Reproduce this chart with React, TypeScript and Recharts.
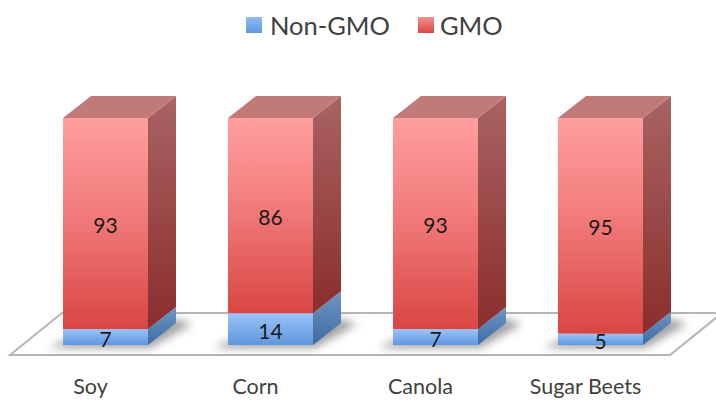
import { BarChart, Bar, XAxis, YAxis, Legend, LabelList } from "recharts";

const crops = ["Soy", "Corn", "Canola", "Sugar Beets"];
const nonGmo = [7, 14, 7, 5];
const gmo = [93, 86, 93, 95];

const rows = crops.map((crop, i) => ({ crop, nonGmo: nonGmo[i], gmo: gmo[i] }));

// 3D extrusion of each column, up and to the right
const DEPTH_X = 28;
const DEPTH_Y = 22;

const LEGEND_COLORS: Record<string, string> = {
  "Non-GMO": "url(#legendBlue)",
  GMO: "url(#legendRed)",
};

function ColumnFace({ x, y, width, height, front, side, top, shadow }: any) {
  const r = x + width;
  const b = y + height;
  return (
    <g>
      {shadow && (
        <polygon
          points={`${x - 14},${b + 3} ${r + 2},${b + 3} ${r + DEPTH_X + 16},${b - DEPTH_Y + 1} ${r + DEPTH_X},${b - DEPTH_Y - 4} ${x},${b - 4}`}
          fill="#555"
          opacity={0.55}
          filter="url(#floorShadow)"
        />
      )}
      <polygon
        points={`${r},${y} ${r + DEPTH_X},${y - DEPTH_Y} ${r + DEPTH_X},${b - DEPTH_Y} ${r},${b}`}
        fill={side}
      />
      {top && (
        <polygon
          points={`${x},${y} ${x + DEPTH_X},${y - DEPTH_Y} ${r + DEPTH_X},${y - DEPTH_Y} ${r},${y}`}
          fill={top}
        />
      )}
      <rect x={x} y={y} width={width} height={height} fill={front} />
    </g>
  );
}

const BlueColumn = (props: any) => (
  <ColumnFace {...props} front="url(#blueFront)" side="url(#blueSide)" shadow />
);

const RedColumn = (props: any) => (
  <ColumnFace {...props} front="url(#redFront)" side="url(#redSide)" top="#c27a79" />
);

// category names sit left of their column, as the 3D projection shifts the plot
function CropTick({ x, y, payload }: any) {
  return (
    <text x={x - 15} y={y + 41} textAnchor="middle" fontSize={21.5} fill="#404040">
      {payload.value}
    </text>
  );
}

function LegendRow({ payload }: any) {
  return (
    <div style={{ display: "flex", alignItems: "center", fontSize: 25.5, color: "#404040", lineHeight: "30px" }}>
      {(payload ?? []).map((entry: any, i: number) => (
        <div key={entry.value} style={{ display: "flex", alignItems: "center", marginLeft: i ? 28 : 0 }}>
          <svg width={16} height={16} style={{ marginRight: i ? 6 : 8 }}>
            <rect width={16} height={16} fill={LEGEND_COLORS[entry.value]} />
          </svg>
          {entry.value}
        </div>
      ))}
    </div>
  );
}

const labelStyle = { fill: "#1a1a1a", fontSize: 21 };

export default function App() {
  return (
    <div style={{ position: "absolute", left: 0, top: 0, width: 716, height: 400, background: "#fff", fontFamily: "Lato, sans-serif" }}>
      <BarChart
        width={716}
        height={400}
        data={rows}
        margin={{ top: 88, right: 33, bottom: 25, left: 23 }}
        barCategoryGap={40}
      >
        <defs>
          <linearGradient id="redFront" x1="0" y1="0" x2="0" y2="1">
            <stop offset="0" stopColor="#ff9f9f" />
            <stop offset="0.45" stopColor="#f27c7b" />
            <stop offset="1" stopColor="#d84644" />
          </linearGradient>
          <linearGradient id="redSide" x1="0" y1="0" x2="0" y2="1">
            <stop offset="0" stopColor="#a96363" />
            <stop offset="1" stopColor="#8a2e2c" />
          </linearGradient>
          <linearGradient id="blueFront" x1="0" y1="0" x2="0" y2="1">
            <stop offset="0" stopColor="#9cc4fb" />
            <stop offset="1" stopColor="#5f97dd" />
          </linearGradient>
          <linearGradient id="blueSide" x1="0" y1="0" x2="0" y2="1">
            <stop offset="0" stopColor="#6f95c5" />
            <stop offset="1" stopColor="#3d6ca3" />
          </linearGradient>
          <linearGradient id="legendBlue" x1="0" y1="0" x2="0" y2="1">
            <stop offset="0" stopColor="#8fbcf5" />
            <stop offset="1" stopColor="#5f97dd" />
          </linearGradient>
          <linearGradient id="legendRed" x1="0" y1="0" x2="0" y2="1">
            <stop offset="0" stopColor="#f79090" />
            <stop offset="1" stopColor="#d84644" />
          </linearGradient>
          <filter id="floorShadow" x="-30%" y="-100%" width="160%" height="300%">
            <feGaussianBlur stdDeviation="4" />
          </filter>
        </defs>

        {/* floor of the 3D plot */}
        <polygon
          points="10,355 670,355 722,313 62,313"
          fill="#fff"
          stroke="#b5b5b5"
          strokeWidth={2}
        />

        <XAxis
          dataKey="crop"
          interval={0}
          height={30}
          axisLine={false}
          tickLine={false}
          tick={<CropTick />}
        />
        <YAxis hide domain={[0, 100]} />
        <Legend
          layout="horizontal"
          verticalAlign="top"
          itemSorter={null}
          content={<LegendRow />}
          wrapperStyle={{ position: "absolute", left: 246, top: 10, width: "auto" }}
        />

        <Bar
          dataKey="nonGmo"
          name="Non-GMO"
          stackId="share"
          fill="#5f97dd"
          shape={BlueColumn}
          isAnimationActive={false}
        >
          <LabelList dataKey="nonGmo" position="center" dy={2} style={labelStyle} />
        </Bar>
        <Bar
          dataKey="gmo"
          name="GMO"
          stackId="share"
          fill="#d84644"
          shape={RedColumn}
          isAnimationActive={false}
        >
          <LabelList dataKey="gmo" position="center" dy={2} style={labelStyle} />
        </Bar>
      </BarChart>
    </div>
  );
}
